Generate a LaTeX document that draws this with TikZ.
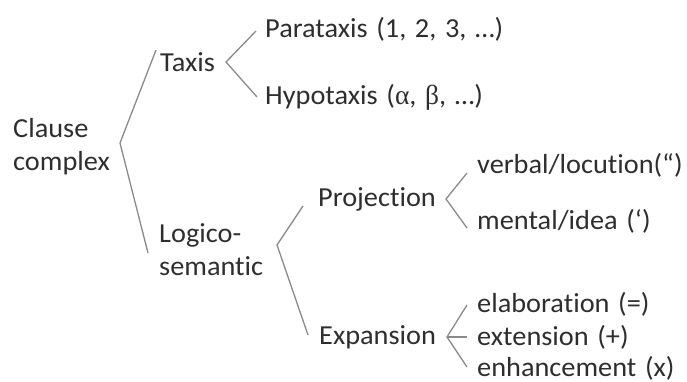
\documentclass[tikz,border=0pt]{standalone}
\usepackage{fontspec}
\setmainfont{Carlito}[Ligatures={NoCommon}, FakeStretch=1.03, WordSpace=1.35]
\newfontfamily\grk{Liberation Serif}
\definecolor{txt}{HTML}{2E2E2E}
\definecolor{ln}{HTML}{8A8A8A}
\tikzset{
  lbl/.style={anchor=west, inner sep=0pt, text=txt, font=\fontsize{27.5}{33}\selectfont, align=left},
  br/.style={draw=ln, line width=1.3pt}
}
\begin{document}
\begin{tikzpicture}[x=1pt,y=-1pt]
\useasboundingbox (0,0) rectangle (687,381);
% nodes
\node[lbl] (cc) at (13,147) {Clause\\complex};
\node[lbl] (tx) at (160,62) {Taxis};
\node[lbl] (par) at (265,29) {Parataxis (1, 2, 3, …)};
\node[lbl] (hyp) at (265,97) {Hypotaxis ({\grk α}, {\grk β}, …)};
\node[lbl] (ls) at (159,250) {Logico-\\semantic};
\node[lbl] (pr) at (318,199) {Projection};
\node[lbl] (vb) at (477,165) {verbal/locution(“)};
\node[lbl] (mi) at (477,221) {mental/idea (‘)};
\node[lbl] (ex) at (319,337) {Expansion};
\node[lbl] (el) at (477,304) {elaboration (=)};
\node[lbl] (et) at (477,337) {extension (+)};
\node[lbl] (en) at (477,368) {enhancement (x)};
% bracket points
\coordinate (v0) at (120,143);
\coordinate (t0) at (156,50);
\coordinate (b0) at (148,253);
\coordinate (v1) at (226,62);
\coordinate (t1) at (256,31);
\coordinate (b1) at (257,97);
\coordinate (v2) at (277,245);
\coordinate (t2) at (303,206);
\coordinate (b2) at (308,335);
\coordinate (v3) at (446,199);
\coordinate (t3) at (467,173);
\coordinate (b3) at (467,228);
\coordinate (v4) at (447,337);
\coordinate (t4) at (467,305);
\coordinate (m4) at (467,337);
\coordinate (b4) at (467,367);
% brackets
\draw[br] (t0) -- (v0) -- (b0);
\draw[br] (t1) -- (v1) -- (b1);
\draw[br] (t2) -- (v2) -- (b2);
\draw[br] (t3) -- (v3) -- (b3);
\draw[br] (t4) -- (v4) -- (b4);
\draw[br] (v4) -- (m4);
\end{tikzpicture}
\end{document}
